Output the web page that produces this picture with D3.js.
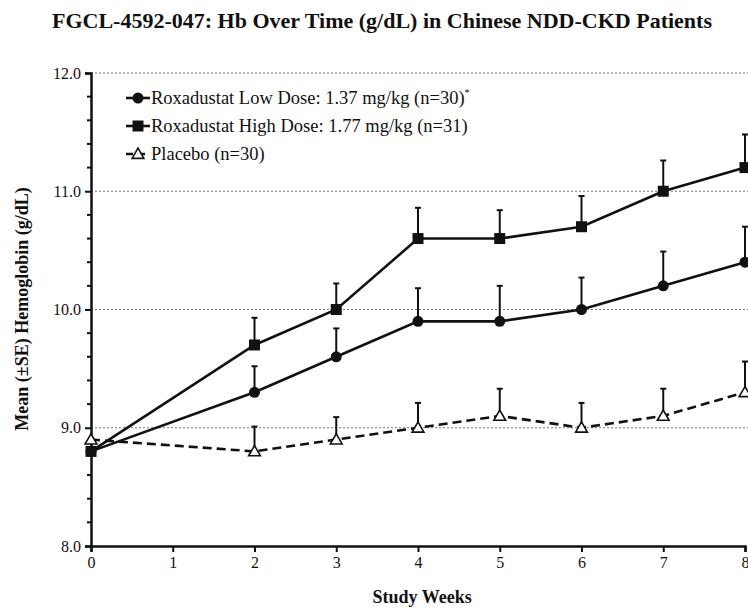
<!DOCTYPE html>
<html>
<head>
<meta charset="utf-8">
<script src="https://cdn.jsdelivr.net/npm/d3@7"></script>
<style>
  html, body { margin: 0; padding: 0; background: #fff; }
  svg { display: block; }
  text { font-family: "Liberation Serif", "Times New Roman", serif; fill: #111; }
</style>
</head>
<body>
<svg id="chart" width="748" height="612"></svg>
<script>
// ---- Data ----
const weeks = [0, 2, 3, 4, 5, 6, 7, 8];
const xTicks = [0, 1, 2, 3, 4, 5, 6, 7, 8];
const yTicks = [8.0, 9.0, 10.0, 11.0, 12.0];
const lowDose = [8.8, 9.3, 9.6, 9.9, 9.9, 10.0, 10.2, 10.4];
const lowDoseSE = [null, 0.22, 0.24, 0.28, 0.30, 0.27, 0.29, 0.30];
const highDose = [8.8, 9.7, 10.0, 10.6, 10.6, 10.7, 11.0, 11.2];
const highDoseSE = [null, 0.23, 0.22, 0.26, 0.24, 0.26, 0.26, 0.28];
const placebo = [8.9, 8.8, 8.9, 9.0, 9.1, 9.0, 9.1, 9.3];
const placeboSE = [null, 0.21, 0.19, 0.21, 0.23, 0.21, 0.23, 0.26];
const legendLabels = [
  "Roxadustat Low Dose: 1.37 mg/kg (n=30)",
  "Roxadustat High Dose: 1.77 mg/kg (n=31)",
  "Placebo (n=30)"
];
const title = "FGCL-4592-047: Hb Over Time (g/dL) in Chinese NDD-CKD Patients";
const xTitle = "Study Weeks";
const yTitle = "Mean (\u00B1SE) Hemoglobin (g/dL)";

// ---- Layout ----
const svg = d3.select("#chart");
const x0 = 91, x1 = 745, yTop = 73, yBot = 546;
const x = d3.scaleLinear().domain([0, 8]).range([x0, x1]);
const y = d3.scaleLinear().domain([8, 12]).range([yBot, yTop]);

// Title
svg.append("text")
  .attr("x", 382).attr("y", 28)
  .attr("text-anchor", "middle")
  .attr("font-weight", "bold")
  .attr("font-size", 22)
  .attr("textLength", 660)
  .attr("lengthAdjust", "spacingAndGlyphs")
  .text(title);

// Gridlines (dotted) at 9,10,11,12
svg.append("g").selectAll("line")
  .data(yTicks.filter(d => d > 8))
  .join("line")
  .attr("x1", x0).attr("x2", 748)
  .attr("y1", d => y(d)).attr("y2", d => y(d))
  .attr("stroke", "#777").attr("stroke-width", 1.2)
  .attr("stroke-dasharray", "2,2");

// Y axis
const yAxis = d3.axisLeft(y).tickValues(yTicks).tickFormat(d3.format(".1f")).tickSize(6).tickPadding(4);
const gy = svg.append("g").attr("transform", `translate(${x0},0)`).call(yAxis);
gy.select(".domain").attr("stroke", "#111").attr("stroke-width", 2.5);
gy.selectAll(".tick line").attr("stroke", "#111").attr("stroke-width", 2);
gy.selectAll(".tick text").attr("font-size", 16).attr("font-family", "Liberation Serif, serif").attr("fill", "#222");

// minor y ticks
const minor = d3.range(8.2, 12, 0.2).filter(v => Math.abs(v - Math.round(v)) > 0.01);
svg.append("g").selectAll("line").data(minor).join("line")
  .attr("x1", x0 - 4).attr("x2", x0 + 1)
  .attr("y1", d => y(d)).attr("y2", d => y(d))
  .attr("stroke", "#111").attr("stroke-width", 2);

// X axis
const xAxis = d3.axisBottom(x).tickValues(xTicks).tickFormat(d3.format("d")).tickSize(6).tickPadding(5);
const gx = svg.append("g").attr("transform", `translate(0,${yBot})`).call(xAxis);
gx.select(".domain").attr("stroke", "#111").attr("stroke-width", 2.5);
gx.selectAll(".tick line").attr("stroke", "#111").attr("stroke-width", 2);
gx.selectAll(".tick text").attr("font-size", 16).attr("font-family", "Liberation Serif, serif").attr("fill", "#222");

// Axis titles
svg.append("text")
  .attr("x", x(4.05)).attr("y", 603)
  .attr("text-anchor", "middle")
  .attr("font-weight", "bold").attr("font-size", 18)
  .text(xTitle);
svg.append("text")
  .attr("transform", `translate(28,309) rotate(-90)`)
  .attr("text-anchor", "middle")
  .attr("font-weight", "bold").attr("font-size", 18)
  .text(yTitle);

// Series
const series = [
  {vals: placebo, se: placeboSE, dash: "9,5", marker: "triangle"},
  {vals: lowDose, se: lowDoseSE, dash: null, marker: "circle"},
  {vals: highDose, se: highDoseSE, dash: null, marker: "square"}
];

const line = d3.line().x((d, i) => x(weeks[i])).y(d => y(d));

series.forEach(s => {
  const g = svg.append("g");
  const eb = weeks.map((w, i) => ({w, v: s.vals[i], se: s.se[i]})).filter(d => d.se != null);
  g.selectAll("line.eb").data(eb).join("line")
    .attr("x1", d => x(d.w)).attr("x2", d => x(d.w))
    .attr("y1", d => y(d.v)).attr("y2", d => y(d.v + d.se))
    .attr("stroke", "#111").attr("stroke-width", 2);
  g.selectAll("line.cap").data(eb).join("line")
    .attr("x1", d => x(d.w) - 3).attr("x2", d => x(d.w) + 3)
    .attr("y1", d => y(d.v + d.se)).attr("y2", d => y(d.v + d.se))
    .attr("stroke", "#111").attr("stroke-width", 2);
  g.append("path").datum(s.vals)
    .attr("d", line)
    .attr("fill", "none").attr("stroke", "#111").attr("stroke-width", 2.6)
    .attr("stroke-dasharray", s.dash);
});

function drawMarker(g, type, cx, cy) {
  if (type === "circle") {
    g.append("circle").attr("cx", cx).attr("cy", cy).attr("r", 5.5).attr("fill", "#111");
  } else if (type === "square") {
    g.append("rect").attr("x", cx - 5.5).attr("y", cy - 5.5).attr("width", 11).attr("height", 11).attr("fill", "#111");
  } else {
    const sym = d3.symbol().type(d3.symbolTriangle).size(60);
    g.append("path").attr("d", sym).attr("transform", `translate(${cx},${cy + 1})`)
      .attr("fill", "#fff").attr("stroke", "#111").attr("stroke-width", 1.6);
  }
}

series.forEach(s => {
  const g = svg.append("g");
  s.vals.forEach((v, i) => drawMarker(g, s.marker, x(weeks[i]), y(v)));
});

// Legend
const legMarkers = ["circle", "square", "triangle"];
const legDash = [null, null, "7,5"];
const legY = [98, 126, 154];
const lg = svg.append("g");
legMarkers.forEach((m, i) => {
  lg.append("line").attr("x1", 126).attr("x2", 150).attr("y1", legY[i]).attr("y2", legY[i])
    .attr("stroke", "#111").attr("stroke-width", 2.6).attr("stroke-dasharray", legDash[i]);
  drawMarker(lg, m, 138, legY[i]);
  const t = lg.append("text").attr("x", 151).attr("y", legY[i] + 6).attr("font-size", 18.5).text(legendLabels[i]);
  if (i === 0) t.append("tspan").attr("dy", -8).attr("font-size", 10).text("*");
});
</script>
</body>
</html>
